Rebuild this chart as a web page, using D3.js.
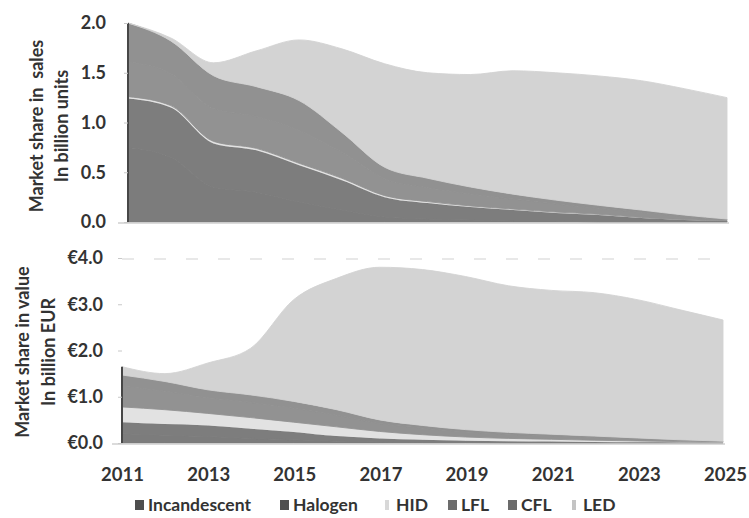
<!DOCTYPE html>
<html>
<head>
<meta charset="utf-8">
<script src="https://cdn.jsdelivr.net/npm/d3@7"></script>
<style>
  body { margin: 0; background: #fff; }
  text { font-family: Lato, "Open Sans", sans-serif; font-weight: 700; fill: #333; }
</style>
</head>
<body>
<div id="chart"></div>
<script>
var years = [2011, 2012, 2013, 2014, 2015, 2016, 2017, 2018, 2019, 2020, 2021, 2022, 2023, 2024, 2025];
var series = ["Incandescent", "Halogen", "HID", "LFL", "CFL", "LED"];
var xTicks = [2011, 2013, 2015, 2017, 2019, 2021, 2023, 2025];
var unitTicks = [0, 0.5, 1, 1.5, 2];
var valueTicks = [0, 1, 2, 3, 4];

// sales, billion units
var unitsIncandescent = [0.75, 0.65, 0.35, 0.30, 0.20, 0.12, 0.05, 0.03, 0.02, 0.01, 0.01, 0, 0, 0, 0];
var unitsHalogen      = [0.49, 0.50, 0.44, 0.42, 0.37, 0.30, 0.20, 0.16, 0.13, 0.11, 0.08, 0.07, 0.04, 0.02, 0.01];
var unitsHID          = [0.02, 0.02, 0.02, 0.02, 0.02, 0.02, 0.015, 0.015, 0.012, 0.01, 0.01, 0.008, 0.006, 0.005, 0.004];
var unitsLFL          = [0.35, 0.32, 0.33, 0.32, 0.33, 0.26, 0.17, 0.14, 0.12, 0.10, 0.08, 0.06, 0.05, 0.03, 0.01];
var unitsCFL          = [0.39, 0.33, 0.33, 0.30, 0.30, 0.20, 0.115, 0.095, 0.07, 0.05, 0.04, 0.03, 0.024, 0.015, 0.006];
var unitsLED          = [0, 0.03, 0.13, 0.36, 0.61, 0.84, 1.04, 1.06, 1.13, 1.24, 1.28, 1.30, 1.30, 1.27, 1.22];

// value, billion EUR
var valueIncandescent = [0.20, 0.17, 0.14, 0.10, 0.07, 0.04, 0.02, 0.01, 0.01, 0, 0, 0, 0, 0, 0];
var valueHalogen      = [0.25, 0.24, 0.24, 0.21, 0.17, 0.11, 0.08, 0.06, 0.04, 0.04, 0.03, 0.02, 0.015, 0.01, 0.005];
var valueHID          = [0.33, 0.31, 0.26, 0.24, 0.21, 0.20, 0.15, 0.11, 0.08, 0.06, 0.05, 0.04, 0.03, 0.02, 0.015];
var valueLFL          = [0.45, 0.40, 0.34, 0.33, 0.30, 0.25, 0.17, 0.14, 0.11, 0.09, 0.08, 0.06, 0.045, 0.03, 0.015];
var valueCFL          = [0.24, 0.21, 0.17, 0.16, 0.15, 0.12, 0.08, 0.06, 0.05, 0.04, 0.03, 0.03, 0.02, 0.01, 0.005];
var valueLED          = [0.18, 0.17, 0.58, 1.01, 2.20, 2.84, 3.30, 3.37, 3.31, 3.17, 3.11, 3.10, 2.99, 2.81, 2.62];

// legend swatch colours; the areas use a washed-out version of them
var colors = ["#4e4e4e", "#4f4f4f", "#d8d8d8", "#6c6c6c", "#6b6b6b", "#c4c4c4"];

function rows(cols) {
  return years.map(function(y, i) {
    var r = {year: y};
    series.forEach(function(s, j) { r[s] = cols[j][i]; });
    return r;
  });
}

var width = 749, height = 518;

var svg = d3.select("#chart")
  .append("svg")
    .attr("width", width)
    .attr("height", height);

var color = d3.scaleOrdinal().domain(series).range(colors);
function washed(key) { return d3.interpolateRgb("#ffffff", color(key))(0.74); }
var stack = d3.stack().keys(series);

function drawPanel(opts) {
  var x = d3.scaleLinear().domain([2011, 2025]).range(opts.xRange);
  var y = d3.scaleLinear().domain(opts.yDomain).range(opts.yRange);
  var layers = stack(rows(opts.cols));

  var g = svg.append("g");

  if (opts.dashTop) {
    g.append("line")
      .attr("x1", x(2011)).attr("x2", x(2025))
      .attr("y1", y(opts.yDomain[1]) + 1).attr("y2", y(opts.yDomain[1]) + 1)
      .attr("stroke", "#d2d2d2")
      .attr("stroke-width", 1.2)
      .attr("stroke-dasharray", "12,20");
  }

  var area = d3.area()
    .curve(d3.curveMonotoneX)
    .x(function(d) { return x(d.data.year); })
    .y0(function(d) { return y(d[0]); })
    .y1(function(d) { return y(d[1]); });

  g.selectAll("path.layer")
    .data(layers)
    .enter().append("path")
      .attr("class", "layer")
      .attr("d", area)
      .attr("fill", function(d) { return washed(d.key); })
      .attr("stroke", function(d) { return d.key === "HID" ? "none" : washed(d.key); })
      .attr("stroke-width", 0.9);

  // dark left edge of the stack
  var top0 = layers[layers.length - 1][0][1];
  g.append("line")
    .attr("x1", x(2011)).attr("x2", x(2011))
    .attr("y1", y(0)).attr("y2", y(top0))
    .attr("stroke", "#474747")
    .attr("stroke-width", 2);

  // baseline
  g.append("line")
    .attr("x1", x(2011) - 10).attr("x2", x(2025) + 2)
    .attr("y1", y(0) + 1).attr("y2", y(0) + 1)
    .attr("stroke", "#cfcfcf")
    .attr("stroke-width", 1.5);

  var yAxis = g.append("g")
    .attr("transform", "translate(" + x(2011) + ",0)")
    .call(d3.axisLeft(y).tickValues(opts.ticks).tickSize(4).tickPadding(opts.pad).tickFormat(opts.fmt));
  yAxis.select(".domain").remove();
  yAxis.selectAll("line").attr("stroke", "#c8c8c8");
  yAxis.selectAll("text")
    .style("font-size", "18px")
    .attr("fill", "#333");

  opts.title.forEach(function(t, i) {
    svg.append("text")
      .attr("transform", "translate(" + opts.titleX[i] + "," + opts.titleY + ") rotate(-90)")
      .attr("text-anchor", "middle")
      .attr("dominant-baseline", "central")
      .style("font-size", "18px")
      .style("white-space", "pre")
      .text(t);
  });
}

drawPanel({
  cols: [unitsIncandescent, unitsHalogen, unitsHID, unitsLFL, unitsCFL, unitsLED],
  xRange: [128, 727], yDomain: [0, 2], yRange: [222, 23],
  ticks: unitTicks, pad: 18, fmt: d3.format(".1f"),
  title: ["Market share in  sales", "In billion units"], titleX: [36, 61], titleY: 126
});

drawPanel({
  cols: [valueIncandescent, valueHalogen, valueHID, valueLFL, valueCFL, valueLED],
  xRange: [122, 723], yDomain: [0, 4], yRange: [443, 258],
  ticks: valueTicks, pad: 15, fmt: function(d) { return "€" + d3.format(".1f")(d); },
  title: ["Market share in value", "In billion EUR"], titleX: [22, 48], titleY: 352,
  dashTop: true
});

// shared year labels
var xLab = d3.scaleLinear().domain([2011, 2025]).range([122, 725]);
var xAxis = svg.append("g")
  .attr("transform", "translate(0,466)")
  .call(d3.axisBottom(xLab).tickValues(xTicks).tickSize(0).tickPadding(2).tickFormat(d3.format("d")));
xAxis.select(".domain").remove();
xAxis.selectAll("text").style("font-size", "18.5px").attr("fill", "#333");

// legend
var legendX = [135, 280, 385, 448, 508, 572];
var legend = svg.append("g").attr("transform", "translate(0,505)");
var item = legend.selectAll("g")
  .data(series)
  .enter().append("g")
    .attr("transform", function(d, i) { return "translate(" + legendX[i] + ",0)"; });
item.append("rect")
  .attr("x", 0).attr("y", -5)
  .attr("width", function(d) { return (d === "HID" || d === "LED") ? 4 : 9; })
  .attr("height", 10)
  .attr("fill", function(d) { return color(d); });
item.append("text")
  .attr("x", function(d) { return (d === "HID" || d === "LED") ? 11 : 13; })
  .attr("dy", "0.35em")
  .style("font-size", "17.5px")
  .text(function(d) { return d; });
</script>
</body>
</html>
